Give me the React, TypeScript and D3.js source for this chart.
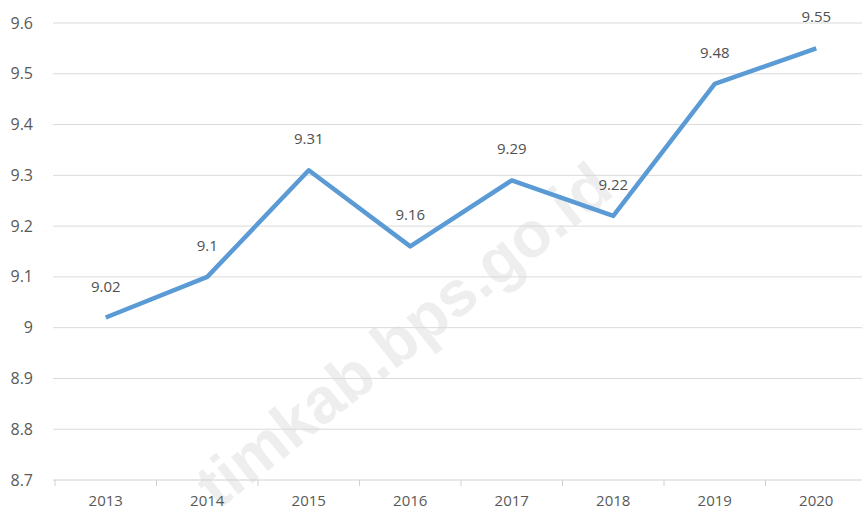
import React from "react";
import * as d3 from "d3";

const years = ["2013", "2014", "2015", "2016", "2017", "2018", "2019", "2020"];
const values = [9.02, 9.1, 9.31, 9.16, 9.29, 9.22, 9.48, 9.55];
const yTicks = [8.7, 8.8, 8.9, 9, 9.1, 9.2, 9.3, 9.4, 9.5, 9.6];

const width = 862;
const height = 521;

export default function App() {
  // plot area runs past the right edge, like the cropped source image
  const x = d3.scaleBand<string>().domain(years).range([55, 867]);
  const y = d3.scaleLinear().domain([8.7, 9.6]).range([480, 23]);

  const line = d3
    .line<number>()
    .x((_, i) => x(years[i])! + x.bandwidth() / 2)
    .y((d) => y(d));

  const font = "'Open Sans', 'Liberation Sans', sans-serif";

  return (
    <svg
      width={width}
      height={height}
      style={{ position: "absolute", left: 0, top: 0, background: "#fff" }}
      fontFamily={font}
    >
      {/* watermark, behind everything */}
      <text
        transform="translate(616,194) rotate(-38.5)"
        textAnchor="end"
        fontSize={64}
        fontWeight="bold"
        fill="#eeeeee"
        fontFamily="'Liberation Sans', sans-serif"
      >
        timkab.bps.go.id
      </text>
      {/* gridlines */}
      {yTicks.map((t) => (
        <line
          key={t}
          x1={53}
          x2={width}
          y1={y(t)}
          y2={y(t)}
          stroke={t === 8.7 ? "#d0d0d0" : "#dadada"}
          strokeWidth={1}
        />
      ))}
      {/* y labels */}
      {yTicks.map((t) => (
        <text
          key={"l" + t}
          x={33}
          y={y(t)}
          dy="0.35em"
          textAnchor="end"
          fontSize={16}
          fill="#595959"
        >
          {d3.format("")(t)}
        </text>
      ))}
      {/* category tick marks */}
      {years.map((yr) => (
        <line
          key={"t" + yr}
          x1={x(yr)!}
          x2={x(yr)!}
          y1={480}
          y2={486}
          stroke="#d0d0d0"
        />
      ))}
      {years.map((yr) => (
        <text
          key={"x" + yr}
          x={x(yr)! + x.bandwidth() / 2}
          y={506}
          textAnchor="middle"
          fontSize={15}
          fill="#595959"
        >
          {yr}
        </text>
      ))}
      <path
        d={line(values) ?? ""}
        fill="none"
        stroke="#5B9BD5"
        strokeWidth={4.5}
        strokeLinejoin="round"
      />
      {values.map((v, i) => (
        <text
          key={"v" + i}
          x={x(years[i])! + x.bandwidth() / 2}
          y={y(v) - 26}
          textAnchor="middle"
          fontSize={15}
          fill="#505050"
        >
          {d3.format("")(v)}
        </text>
      ))}
    </svg>
  );
}
